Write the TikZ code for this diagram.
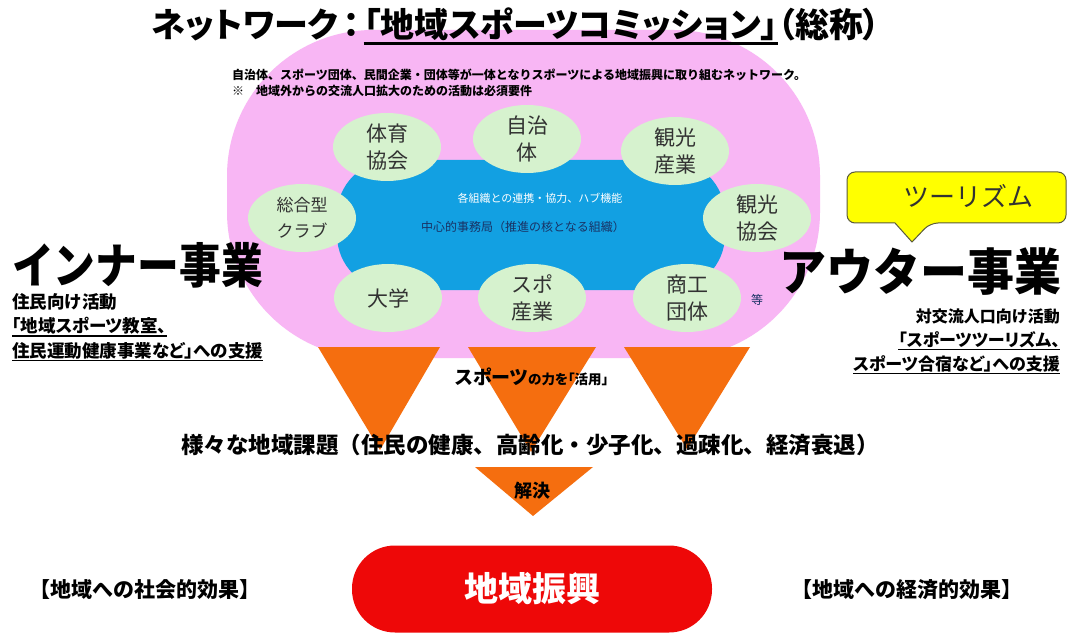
\documentclass[tikz,border=0pt]{standalone}
\usepackage{fontspec}
\usepackage{graphicx}
\newfontfamily\jp{Noto Sans CJK JP}
\newfontfamily\jpp{Noto Sans CJK JP}[RawFeature=+palt]
\usetikzlibrary{shapes.geometric}
\definecolor{pinkbg}{RGB}{248,182,244}
\definecolor{orgfill}{RGB}{214,242,206}
\definecolor{orgtext}{RGB}{50,50,50}
\definecolor{hubblue}{RGB}{18,160,226}
\definecolor{hubtext}{RGB}{25,50,100}
\definecolor{orangetri}{RGB}{245,110,15}
\definecolor{goalred}{RGB}{238,8,8}
\definecolor{callyellow}{RGB}{255,255,0}
\definecolor{calldraw}{RGB}{90,90,60}
\newcommand\jfs[1]{\fontsize{#1}{#1}\selectfont}
\newcommand\jul[1]{\setbox0\hbox{#1}\rlap{\vrule width\wd0 height -0.14em depth 0.22em}\box0}
\begin{document}
\begin{tikzpicture}[x=1pt,y=-1pt,
  txt/.style={font=\jp, inner sep=0pt},
  org/.style={ellipse, fill=orgfill, minimum width=108pt, minimum height=68pt, inner sep=0pt, align=center, text=orgtext, font=\jp\fontsize{21}{27}\selectfont},
  tri/.style={fill=orangetri, draw=none}]
\useasboundingbox (0,0) rectangle (1081,636);
\fill[white] (0,0) rectangle (1081,636);
% network area
\fill[pinkbg, rounded corners=146pt] (227,30) rectangle (820,358);
\fill[hubblue, rounded corners=55pt] (337,160) rectangle (725,290);
% title
\node[txt, font=\jpp\bfseries\jfs{34}] (title) at (516,26) {ネットワーク\kern0.15em：\kern0.1em\jul{「地域スポーツコミッション」}（総称）};
\node[txt, anchor=west, font=\jp\bfseries\jfs{12}] (sub1) at (232,75) {自治体、スポーツ団体、民間企業・団体等が一体となりスポーツによる地域振興に取り組むネットワーク。};
\node[txt, anchor=west, font=\jp\bfseries\jfs{12}] (sub2) at (232,91) {※　地域外からの交流人口拡大のための活動は必須要件};
% hub texts
\node[txt, text=white, font=\jp\jfs{11}] (hub1) at (540,198) {各組織との連携・協力、ハブ機能};
\node[txt, text=hubtext, font=\jp\jfs{12}] (hub2) at (523,227) {中心的事務局（推進の核となる組織）};
% organisations
\node[org] (taiiku) at (387,147) {体育\\協会};
\node[org] (jichi) at (527,139) {自治\\体};
\node[org] (kankosan) at (675,151) {観光\\産業};
\node[org, font=\jp\fontsize{17}{26}\selectfont] (sogo) at (302,218) {総合型\\クラブ};
\node[org] (kankokyo) at (757,218) {観光\\協会};
\node[org] (daigaku) at (388,298) {大学};
\node[org] (supo) at (532,298) {スポ\\産業};
\node[org] (shoko) at (687,298) {商工\\団体};
\node[txt, text=hubtext, font=\jp\jfs{12}] (etc) at (757,300) {等};
% triangles
\fill[tri] (318,347) -- (440,347) -- (380,450) -- cycle;
\fill[tri] (468,347) -- (596,347) -- (531,452) -- cycle;
\fill[tri] (624,347) -- (750,347) -- (687,449) -- cycle;
\node[txt, anchor=base] (katsuyo) at (532,384) {{\jpp\bfseries\jfs{19}スポーツ}{\jpp\bfseries\jfs{13.5}の力を「活用」}};
% inner
\node[txt, anchor=west, font=\jp\bfseries\jfs{48}] (inner) at (12,265) {\scalebox{0.87}[1]{インナー事業}};
\node[txt, anchor=west, font=\jp\bfseries\jfs{17.5}] (in1) at (12,302) {住民向け活動};
\node[txt, anchor=west, font=\jpp\bfseries\jfs{17.5}] (in2) at (12,327) {\jul{「地域スポーツ教室、}};
\node[txt, anchor=west, font=\jpp\bfseries\jfs{17.5}] (in3) at (12,352) {\jul{住民運動健康事業など」への支援}};
% tourism callout
\draw[fill=callyellow, draw=calldraw, line width=1pt, rounded corners=8pt]
  (847,172) -- (1066,172) -- (1066,223) -- (930,223) [sharp corners] -- (912,242) -- (895,223) [rounded corners=8pt] -- (847,223) -- cycle;
\node[txt, text=orgtext, font=\jp\jfs{26}] (tour) at (968,196) {ツーリズム};
% outer
\node[txt, anchor=east, font=\jp\bfseries\jfs{50}] (outer) at (1062,272) {\scalebox{0.94}[1]{アウター事業}};
\node[txt, anchor=east, font=\jp\bfseries\jfs{16}] (out1) at (1060,316) {対交流人口向け活動};
\node[txt, anchor=east, font=\jpp\bfseries\jfs{17}] (out2) at (1060,341) {\jul{「スポーツツーリズム、}};
\node[txt, anchor=east, font=\jpp\bfseries\jfs{17}] (out3) at (1060,365) {\jul{スポーツ合宿など」への支援}};
% issues
\node[txt, font=\jp\bfseries\jfs{22.5}] (issues) at (530,445) {様々な地域課題（住民の健康、高齢化・少子化、過疎化、経済衰退）};
\fill[tri] (475,467) -- (593,467) -- (533,516) -- cycle;
\node[txt, font=\jp\bfseries\jfs{18}] (kaiketsu) at (532,491) {解決};
% goal
\node[fill=goalred, rounded corners=43pt, minimum width=360pt, minimum height=87pt, inner sep=0pt, text=white, font=\jp\bfseries\jfs{34}] (goal) at (532,589) {地域振興};
\node[txt, font=\jp\bfseries\jfs{21}] (social) at (145,590) {【地域への社会的効果】};
\node[txt, font=\jp\bfseries\jfs{21}] (economic) at (907,590) {【地域への経済的効果】};
\end{tikzpicture}
\end{document}
